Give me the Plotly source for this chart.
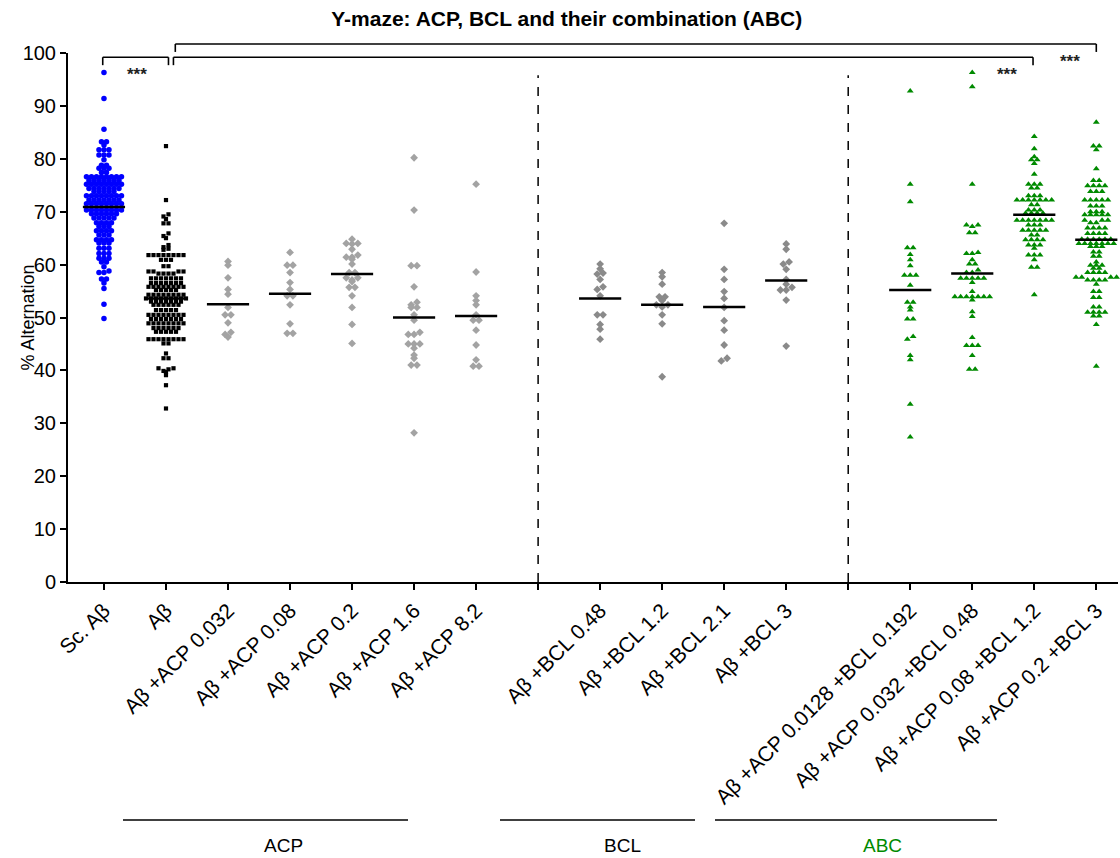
import numpy as np
import plotly.graph_objects as go

# ---------------- data ----------------
categories = ["Sc. Aβ", "Aβ", "Aβ +ACP 0.032", "Aβ +ACP 0.08", "Aβ +ACP 0.2",
              "Aβ +ACP 1.6", "Aβ +ACP 8.2", "", "Aβ +BCL 0.48", "Aβ +BCL 1.2",
              "Aβ +BCL 2.1", "Aβ +BCL 3", "", "Aβ +ACP 0.0128 +BCL 0.192",
              "Aβ +ACP 0.032 +BCL 0.48", "Aβ +ACP 0.08 +BCL 1.2", "Aβ +ACP 0.2 +BCL 3"]

sc_abeta = [96.3, 91.4, 85.6, 83.2, 83.2, 82.6, 81.7, 81.7, 81.7, 80.7, 80.7, 80.7, 79.8,
            78.8, 78.8, 78.2, 78.2, 78.2, 77.4, 77.4,
            76.6, 76.6, 76.6, 76.6, 76.6, 76.6, 76.6, 76.6,
            75.9, 75.9, 75.9, 75.9, 75.9, 75.9, 75.9,
            75.2, 75.2, 75.2, 75.2, 75.2, 75.2, 75.2, 75.2,
            74.4, 74.4, 74.4, 74.4, 74.4, 74.4, 74.4,
            73.8, 73.8, 73.8, 73.8, 73.8,
            73.0, 73.0, 73.0, 73.0, 73.0, 73.0, 73.0, 73.0,
            72.2, 72.2, 72.2, 72.2, 72.2, 72.2, 72.2,
            71.5, 71.5, 71.5, 71.5, 71.5, 71.5, 71.5, 71.5,
            70.3, 70.3, 70.3, 70.3, 70.3, 70.3, 70.3, 70.3,
            69.6, 69.6, 69.6, 69.6, 69.6, 69.6,
            68.8, 68.8, 68.8, 68.8, 68.8,
            67.9, 67.9, 67.9, 67.9,
            67.2, 67.2, 67.2,
            66.4, 66.4, 66.4, 66.4,
            65.6, 65.6, 65.6,
            64.7, 64.7, 64.7, 64.7,
            64.1, 64.1, 64.1,
            63.1, 63.1, 63.1,
            62.1, 62.1, 62.1,
            61.2, 61.2, 61.2,
            60.5, 60.5, 59.6, 58.8, 58.5, 58.5, 57.3, 57.3, 56.5, 55.5, 52.5, 49.8]

abeta = [82.4, 72.2, 69.5, 69.1, 68.6, 67.8, 67.8, 65.9, 65.4, 65.0, 63.7, 63.3, 63.0, 62.8,
         61.8, 61.8, 61.8, 61.8, 61.8, 61.8, 61.8, 61.8,
         60.9, 60.9, 60.9, 59.7, 59.7,
         58.7, 58.7, 58.7, 58.7, 58.3, 58.3, 58.3, 58.3,
         57.4, 57.4, 57.4, 57.4, 57.4, 57.4, 57.4,
         56.5, 56.5, 56.5, 56.5, 56.5, 56.5, 56.5,
         55.8, 55.8, 55.8, 55.8, 55.8, 55.8, 55.8, 55.8,
         55.2, 55.2, 55.2, 55.2, 55.2,
         54.3, 54.3, 54.3, 54.3, 54.3, 54.3, 54.3, 54.3,
         53.6, 53.6, 53.6, 53.6, 53.6, 53.6, 53.6, 53.6, 53.6,
         53.0, 53.0, 53.0, 53.0, 53.0, 53.0, 53.0,
         52.4, 52.4, 52.4, 52.4, 52.4, 52.4,
         51.4, 51.4, 51.4, 51.4, 51.4,
         50.5, 50.5, 50.5, 50.5, 50.5, 50.5, 50.5, 50.5,
         49.7, 49.7, 49.7, 49.7, 49.7, 49.7, 49.7,
         48.9, 48.9, 48.9, 48.9, 48.9, 48.9, 48.9, 48.9,
         48.0, 48.0, 48.0, 48.0, 48.0, 48.0,
         47.3, 47.3, 47.3, 47.3, 47.3,
         45.9, 45.9, 45.9, 45.9, 45.9, 45.9, 45.9, 45.9,
         45.1, 45.1, 43.2, 42.3, 42.3, 40.4, 40.4, 40.2, 39.9, 39.7, 39.1, 37.2, 32.8]

acp_0032 = [60.6, 59.9, 57.5, 55.3, 54.4, 51.9, 50.5, 50.5, 49.0, 47.2, 46.8, 46.3]
acp_008 = [62.3, 59.9, 59.9, 58.5, 56.6, 55.3, 54.1, 54.1, 52.4, 48.8, 47.0, 47.0]
acp_02 = [64.8, 64.0, 64.0, 63.9, 62.9, 61.8, 61.4, 61.4, 61.0, 60.1, 58.5, 58.5, 57.5,
          57.5, 57.1, 56.8, 55.7, 55.7, 54.1, 51.9, 48.7, 45.1]
acp_16 = [80.2, 70.3, 59.8, 59.8, 55.8, 52.9, 52.4, 51.9, 51.9, 50.5, 49.5, 47.2, 46.8,
          46.8, 45.0, 45.0, 45.0, 44.2, 42.9, 42.3, 41.0, 41.0, 28.2]
acp_82 = [75.2, 58.6, 54.1, 53.2, 52.4, 50.5, 49.5, 49.5, 47.6, 44.8, 42.0, 40.8, 40.8]

bcl_048 = [60.1, 59.2, 58.4, 58.2, 57.2, 55.8, 55.3, 54.1, 50.5, 50.5, 48.7, 47.8, 45.9]
bcl_12 = [58.5, 57.7, 56.3, 53.9, 53.9, 53.2, 52.4, 52.4, 52.0, 50.5, 48.8, 38.8]
bcl_21 = [67.8, 59.1, 57.2, 54.9, 53.6, 51.9, 49.4, 47.6, 44.8, 42.3, 41.8]
bcl_3 = [63.9, 62.9, 60.5, 60.1, 59.1, 57.2, 56.3, 55.7, 55.2, 55.2, 53.3, 44.6]

abc_1 = [92.8, 75.2, 71.9, 63.2, 63.2, 61.9, 60.9, 59.8, 58.0, 58.0, 58.0, 56.1, 52.9, 52.9,
         52.0, 51.4, 49.7, 49.7, 46.4, 45.9, 42.8, 42.0, 33.6, 27.4]
abc_2 = [96.3, 93.6, 75.2, 67.5, 67.5, 67.2, 66.0, 66.0, 62.3, 62.1, 62.1, 60.9, 60.1, 60.1,
         59.0, 58.5, 58.5, 57.4, 57.4, 57.4, 57.4, 57.4, 56.6, 54.9,
         53.9, 53.9, 53.9, 53.9, 53.9, 53.9, 53.9, 53.3, 51.1, 50.2, 46.2,
         44.7, 44.7, 44.7, 42.8, 40.2, 40.2]
abc_3 = [84.2, 81.9, 80.4, 79.8, 79.8, 79.1, 77.1, 75.2, 75.2, 75.2, 74.5, 74.5,
         73.0, 73.0, 73.0, 72.2, 72.2, 72.2, 72.2, 72.2, 72.2, 72.2, 71.3, 71.3,
         70.3, 70.3, 70.3, 69.7, 69.7, 69.7, 69.7,
         68.4, 68.4, 68.4, 68.4, 68.4, 68.4, 68.4, 67.5, 67.5, 67.5,
         66.5, 66.5, 66.5, 66.5, 66.5, 65.6, 65.6, 64.7, 64.7, 64.7, 64.7,
         63.7, 63.7, 63.7, 63.1, 61.8, 61.8, 61.8, 60.9, 59.5, 59.5, 54.3]
abc_4 = [86.9, 82.4, 82.4, 81.7, 78.1, 75.9, 75.9, 74.9, 74.9, 74.9, 74.9,
         73.8, 73.8, 73.8, 72.2, 72.2, 72.2, 72.2, 72.2, 71.1, 71.1, 71.1,
         70.0, 70.0, 70.0, 69.4, 69.4, 69.4, 69.4, 69.4, 68.4, 68.4, 68.4, 67.9, 67.9,
         66.9, 66.9, 66.9, 66.9, 65.9, 65.9, 65.9, 65.9,
         64.8, 64.8, 64.8, 64.8, 64.8, 64.8, 64.0, 64.0, 64.0, 64.0, 64.0, 64.0, 64.0,
         63.4, 63.4, 63.4, 62.4, 62.4, 61.6, 61.6, 60.5, 59.9, 59.9, 59.9, 59.3, 59.3,
         58.5, 58.5, 58.5, 58.5, 57.6, 57.6, 57.6, 57.6, 57.1, 57.1, 57.1, 57.1, 56.3,
         54.9, 54.9, 53.8, 53.8, 52.0, 52.0, 51.0, 51.0, 51.0, 51.0, 50.3, 50.3, 48.7, 40.8]

center_lines = [70.9, 53.6, 52.5, 54.5, 58.2, 50.0, 50.3, 53.6, 52.4, 52.0, 57.0,
                55.2, 58.3, 69.4, 64.7]

group_names = ["ACP", "BCL", "ABC"]
y_ticks = [0, 10, 20, 30, 40, 50, 60, 70, 80, 90, 100]
star_labels = ["***", "***", "***"]

# ---------------- layout / style config ----------------
groups = [  # (values, category index, symbol, colour, size, spacing px)
    (sc_abeta, 0, "circle", "#0000ff", 5.5, 5.0),
    (abeta, 1, "square", "#000000", 4.2, 5.0),
    (acp_0032, 2, "diamond", "#a3a3a3", 6, 5.8),
    (acp_008, 3, "diamond", "#a3a3a3", 6, 5.8),
    (acp_02, 4, "diamond", "#a3a3a3", 6, 5.8),
    (acp_16, 5, "diamond", "#a3a3a3", 6, 5.8),
    (acp_82, 6, "diamond", "#a3a3a3", 6, 5.8),
    (bcl_048, 8, "diamond", "#8a8a8a", 6, 5.8),
    (bcl_12, 9, "diamond", "#8a8a8a", 6, 5.8),
    (bcl_21, 10, "diamond", "#8a8a8a", 6, 5.8),
    (bcl_3, 11, "diamond", "#8a8a8a", 6, 5.8),
    (abc_1, 13, "triangle-up", "#008a00", 6, 5.8),
    (abc_2, 14, "triangle-up", "#008a00", 6, 5.8),
    (abc_3, 15, "triangle-up", "#008a00", 6, 5.8),
    (abc_4, 16, "triangle-up", "#008a00", 6, 5.8),
]

W, H = 1120, 858
ML, MR, MT, MB = 68, 2, 53, 276
XMIN, XMAX = -0.58, 16.35
YMIN, YMAX = 0, 100
PW, PH = W - ML - MR, H - MT - MB
px_x = PW / (XMAX - XMIN)
px_y = PH / (YMAX - YMIN)


def row_swarm(vals, s_px, h_px=3.0):
    """Prism-like column scatter: points binned into rows, spread side by side."""
    v = np.asarray(vals, dtype=float)
    order = np.argsort(-v, kind="stable")
    rows, cur, top = [], [], None
    for i in order:
        if cur and (v[top] - v[i]) * px_y > h_px:
            rows.append(cur)
            cur = []
        if not cur:
            top = i
        cur.append(i)
    if cur:
        rows.append(cur)
    xs = np.zeros(len(v))
    for r in rows:
        n = len(r)
        pos = sorted([(k - (n - 1) / 2) * s_px for k in range(n)], key=lambda p: (abs(p), p))
        for p, i in zip(pos, sorted(r, key=lambda j: v[j])):
            xs[i] = p
    return xs / px_x


def xp(x):
    return (x - XMIN) / (XMAX - XMIN)


def yp(y):
    return (y - YMIN) / (YMAX - YMIN)


def xp_px(px):
    return (px - ML) / PW


def yp_px(py):
    return (H - MB - py) / PH


fig = go.Figure()
for vals, idx, sym, col, size, sp in groups:
    offs = row_swarm(vals, sp)
    fig.add_trace(go.Scatter(
        x=idx + offs, y=vals, mode="markers",
        marker=dict(symbol=sym, color=col, size=size, line=dict(width=0)),
        showlegend=False, hoverinfo="y", cliponaxis=False))

# centre lines
lx, ly = [], []
for (vals, idx, *_), c in zip(groups, center_lines):
    lx += [idx - 0.34, idx + 0.34, None]
    ly += [c, c, None]
fig.add_trace(go.Scatter(x=lx, y=ly, mode="lines", line=dict(color="black", width=2.5),
                         showlegend=False, hoverinfo="skip"))

shapes = []
for xv in (7, 12):
    shapes.append(dict(type="line", xref="x", yref="y", x0=xv, x1=xv, y0=0, y1=95.8,
                       line=dict(color="black", width=1.5, dash="dash")))


def bracket(x0, x1, ytop, ydrop):
    s = dict(color="black", width=1.6)
    return [
        dict(type="line", xref="paper", yref="paper", x0=xp(x0), x1=xp(x1), y0=yp(ytop), y1=yp(ytop), line=s),
        dict(type="line", xref="paper", yref="paper", x0=xp(x0), x1=xp(x0), y0=yp(ytop), y1=yp(ydrop), line=s),
        dict(type="line", xref="paper", yref="paper", x0=xp(x1), x1=xp(x1), y0=yp(ytop), y1=yp(ydrop), line=s),
    ]


shapes += bracket(-0.02, 1.04, 99.2, 97.7)
shapes += bracket(1.12, 14.98, 99.2, 97.7)
shapes += bracket(1.15, 16.0, 101.7, 100.2)

group_line_px = [(123, 408), (500, 695), (715, 997)]
group_label_px = [283, 622, 882]
group_colors = ["black", "black", "#008a00"]
line_y_px, label_y_px = 820, 846
for (a, b) in group_line_px:
    shapes.append(dict(type="line", xref="paper", yref="paper",
                       x0=xp_px(a), x1=xp_px(b), y0=yp_px(line_y_px), y1=yp_px(line_y_px),
                       line=dict(color="black", width=1.6)))

annotations = []
for name, xpx, col in zip(group_names, group_label_px, group_colors):
    annotations.append(dict(text=name, xref="paper", yref="paper",
                            x=xp_px(xpx), y=yp_px(label_y_px),
                            xanchor="center", yanchor="middle",
                            showarrow=False, font=dict(size=19, color=col)))

for txt, sx, sy in zip(star_labels, [0.53, 14.56, 15.58], [95.9, 95.9, 98.3]):
    annotations.append(dict(text="<b>" + txt + "</b>", xref="paper", yref="paper", x=xp(sx), y=yp(sy),
                            xanchor="center", yanchor="middle",
                            showarrow=False, font=dict(size=17, color="#222222")))

annotations.append(dict(text="% Alternation", xref="paper", yref="paper",
                        x=xp_px(27), y=0.5, textangle=-90,
                        xanchor="center", yanchor="middle",
                        showarrow=False, font=dict(size=18, color="black")))

fig.update_layout(
    width=W, height=H,
    margin=dict(l=ML, r=MR, t=MT, b=MB, autoexpand=False),
    paper_bgcolor="white", plot_bgcolor="white",
    font=dict(family="Arial, Liberation Sans, sans-serif", color="black"),
    title=dict(text="<b>Y-maze: ACP, BCL and their combination (ABC)</b>",
               x=0.506, xanchor="center", y=1 - 19 / H, yanchor="middle",
               font=dict(size=21, color="black")),
    shapes=shapes, annotations=annotations,
    xaxis=dict(range=[XMIN, XMAX], tickmode="array", tickvals=list(range(len(categories))),
               ticktext=categories, tickangle=-45, tickfont=dict(size=21),
               showline=True, linecolor="black", linewidth=2, mirror=False,
               ticks="outside", ticklen=6, tickwidth=2, tickcolor="black",
               showgrid=False, zeroline=False, automargin=False),
    yaxis=dict(range=[YMIN, YMAX], tickmode="array", tickvals=y_ticks,
               tickfont=dict(size=20), showline=True, linecolor="black", linewidth=2,
               ticks="outside", ticklen=6, tickwidth=2, tickcolor="black",
               showgrid=False, zeroline=False, automargin=False),
)

fig.write_html("out.html", config={"displayModeBar": False},
               post_script="document.body.style.margin='0';document.body.style.overflow='hidden';")
